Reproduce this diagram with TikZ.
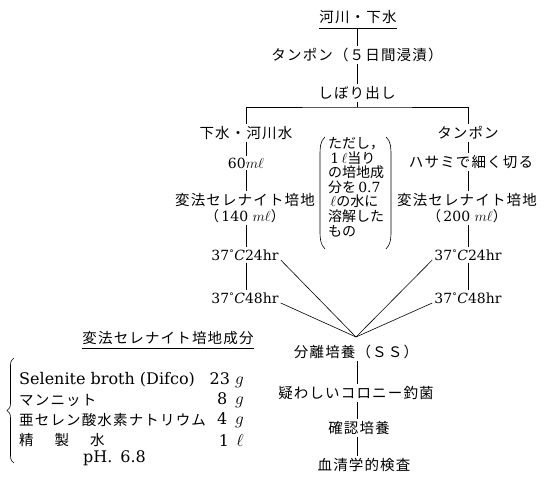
\documentclass[tikz,border=0pt]{standalone}
\usepackage{fontspec}
\newfontfamily\cjk[LetterSpace=8]{Noto Sans CJK JP}
\newfontfamily\cjkn{Noto Sans CJK JP}
\newfontfamily\ser{DejaVu Serif}
\usetikzlibrary{decorations.pathreplacing}
\newcommand{\degC}{{\fontsize{9}{9}\selectfont\raisebox{4pt}{°}}\kern0.5pt{\itshape C}}
\begin{document}
\begin{tikzpicture}[x=1pt,y=-1pt,
  jp/.style={font=\cjk\fontsize{14.5}{16}\selectfont, inner sep=2pt},
  lt/.style={font=\ser\fontsize{14}{16}\selectfont, inner sep=2pt},
  tb/.style={font=\ser\fontsize{16}{17}\selectfont, inner sep=0pt},
  qt/.style={font=\ser\fontsize{16}{17}\selectfont, inner sep=0pt, anchor=east},
  ln/.style={line width=0.6pt},
  thin/.style={line width=0.4pt},
  ]
\useasboundingbox (0,0) rectangle (551,478);
% main chain top
\node[jp, inner xsep=0pt, inner ysep=4pt] (top) at (358,17) {河川・下水};
\draw[ln] (top.south west) -- (top.south east);
\node[jp] (tam) at (357,55) {タンポン（５日間浸漬）};
\node[jp] (shi) at (357,93) {しぼり出し};
\coordinate (split) at (357,107);
\draw[ln] (top.south -| tam.north) -- (tam.north);
\draw[thin] (tam) -- (shi);
\draw[ln] (shi) -- (split);
% left branch
\node[jp] (L1) at (246,133) {下水・河川水};
\node[lt] (L2) at (246,163) {60$m\ell$};
\node[jp, align=center] (L3) at (245,208) {変法セレナイト培地\\{\ser\fontsize{14}{16}\selectfont{\cjkn （}\,140 $m\ell${\cjkn ）}}};
\node[lt] (L24) at (245,255) {37\degC24hr};
\node[lt] (L48) at (245,298) {37\degC48hr};
% right branch
\node[jp] (R1) at (468,133) {タンポン};
\node[jp] (R2) at (471,162) {ハサミで細く切る};
\node[jp, align=center] (R3) at (467,208) {変法セレナイト培地\\{\ser\fontsize{14}{16}\selectfont{\cjkn （}\,200 $m\ell${\cjkn ）}}};
\node[lt] (R24) at (468,255) {37\degC24hr};
\node[lt] (R48) at (468,298) {37\degC48hr};
\draw[ln] (L1) |- (split) -| (R1);
\draw[ln] (L1.south -| 246,0) -- (L2.north -| 246,0);
\draw[ln] (L2) -- (L3.north -| L2.south);
\draw[ln] (L3.south -| 246,0) -- (L24.north -| 246,0);
\draw[thin] (L24.south -| 246,0) -- (L48.north -| 246,0);
\draw[ln] (R1.south -| 468,0) -- (R2.north -| 468,0);
\draw[ln] (R2.south -| 468,0) -- (R3.north -| 468,0);
\draw[ln] (R3.south -| 468,0) -- (R24.north -| 468,0);
\draw[ln] (R24.south -| 468,0) -- (R48.north -| 468,0);
% note in parentheses
\node[font=\cjkn\fontsize{14}{14.6}\selectfont, align=left, inner sep=0pt] (note) at (356,187) {ただし，\\{\ser\,1\,}$\ell$当り\\の培地成\\分を{\ser\,0.7}\\\,$\ell$の水に\\溶解した\\もの};
\draw[ln] (325,137) .. controls (320,141) and (320,148) .. (320,156) -- (320,230) .. controls (320,238) and (320,244) .. (325,249);
\draw[ln] (386,137) .. controls (391,141) and (391,148) .. (391,156) -- (391,230) .. controls (391,238) and (391,244) .. (386,249);
% convergence
\coordinate (conv) at (356,337);
\node[jp] (ss) at (356,352) {分離培養（ＳＳ）};
\draw[ln] ([yshift=-5pt]L24.east) -- (conv);
\draw[ln] ([yshift=-5pt]L48.east) -- (conv);
\draw[ln] ([yshift=-5pt]R24.west) -- (conv);
\draw[ln] ([yshift=-5pt]R48.west) -- (conv);
\node[jp] (ut) at (356,393) {疑わしいコロニー釣菌};
\node[jp] (kn) at (359,428) {確認培養};
\node[jp] (ks) at (364,465) {血清学的検査};
\draw[thin] (ss.south -| 357,0) -- (ut.north -| 357,0);
\draw[thin] (ut.south -| 357,0) -- (kn.north -| 357,0);
\draw[ln] (kn.south -| 357,0) -- (ks.north -| 357,0);
% composition table
\node[jp, inner xsep=0pt, inner ysep=3pt] (hd) at (168,338) {変法セレナイト培地成分};
\draw[ln] (hd.south west) -- (hd.south east);
\node[tb, anchor=west] (r1) at (19,380) {Selenite broth (Difco)};
\node[jp, anchor=west, inner sep=0pt] (r2) at (19,400) {マンニット};
\node[jp, anchor=west, inner sep=0pt] (r3) at (19,420) {亜セレン酸水素ナトリウム};
\node[jp, anchor=west, inner sep=0pt] (r4) at (19,440) {精\hspace{21pt}製\hspace{21pt}水};
\node[tb, anchor=west] (r5) at (83,458) {pH.\hspace{8pt}6.8};
\node[qt] (q1) at (244,380) {23 $g$};
\node[qt] (q2) at (244,400) {8 \,$g$};
\node[qt] (q3) at (244,420) {4 \,$g$};
\node[qt] (q4) at (244,440) {1 \,$\ell$};
\draw[ln, decorate, decoration={brace, amplitude=7pt, aspect=0.5}] (14,463) -- (14,358);
\end{tikzpicture}
\end{document}
